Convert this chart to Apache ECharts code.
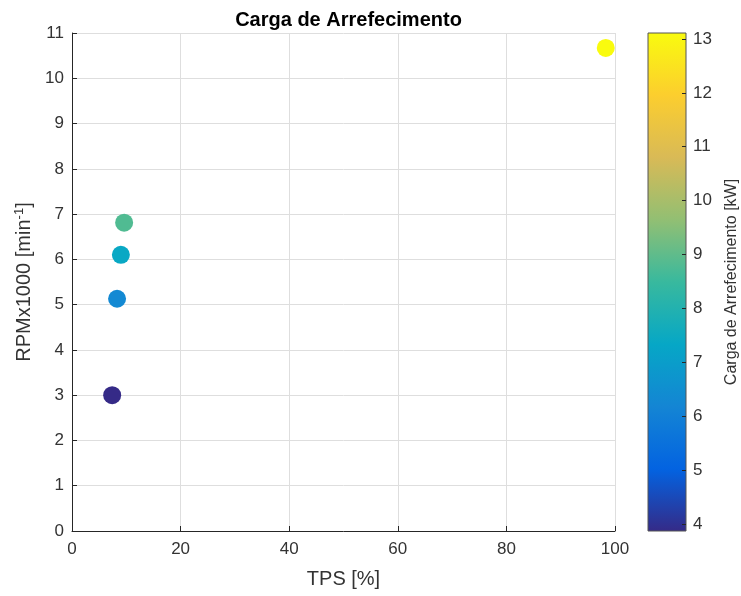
<!DOCTYPE html>
<html>
<head>
<meta charset="utf-8">
<script src="https://cdn.jsdelivr.net/npm/echarts@6/dist/echarts.min.js"></script>
<style>
  html, body { margin: 0; padding: 0; background: #fff; }
  #chart { width: 741px; height: 596px; }
</style>
</head>
<body>
<div id="chart"></div>
<script>
// Operating points: throttle position, engine speed and cooling load
const tps = [7.4, 8.3, 9.0, 9.6, 98.3];
const rpm = [3.0, 5.13, 6.1, 6.81, 10.67];
const carga = [3.87, 6.3, 7.4, 8.8, 13.11];

// Axis ticks
const xTicks = [0, 20, 40, 60, 80, 100];
const yTicks = [0, 1, 2, 3, 4, 5, 6, 7, 8, 9, 10, 11];
const cbTicks = [4, 5, 6, 7, 8, 9, 10, 11, 12, 13];

// Parula colour map key colours
const parula = ['#352a87', '#0363e1', '#1485d4', '#06a7c6', '#38b99e',
                '#92bf73', '#d9ba56', '#fcce2e', '#f9fb0e'];

const cMin = Math.min(...carga);
const cMax = Math.max(...carga);

const points = tps.map((t, i) => [t, rpm[i], carga[i]]);

const font = 'Liberation Sans, Arial, Helvetica, sans-serif';
const txt = '#333333';
const axisCol = '#262626';
const gridCol = '#dedede';

const chart = echarts.init(document.getElementById('chart'), null, { renderer: 'canvas' });

chart.setOption({
  animation: false,
  backgroundColor: '#ffffff',
  textStyle: { fontFamily: font },
  title: {
    text: 'Carga de Arrefecimento',
    left: 343.5,
    textAlign: 'center',
    top: 5,
    textStyle: { fontSize: 20, fontWeight: 'bold', color: '#000', fontFamily: font }
  },
  grid: [
    { left: 72, right: 126, top: 33, bottom: 65 },
    { left: 648, width: 40, top: 33, bottom: 65 }
  ],
  visualMap: {
    show: false,
    type: 'continuous',
    seriesIndex: 0,
    dimension: 2,
    min: cMin,
    max: cMax,
    inRange: { color: parula }
  },
  xAxis: [
    {
      gridIndex: 0, type: 'value', min: xTicks[0], max: xTicks[xTicks.length - 1], interval: 20,
      name: 'TPS [%]', nameLocation: 'middle', nameGap: 38,
      nameTextStyle: { fontSize: 20, color: txt },
      axisLine: { show: true, onZero: false, lineStyle: { color: axisCol, width: 1 } },
      axisTick: { show: true, inside: true, length: 5, lineStyle: { color: axisCol } },
      axisLabel: { fontSize: 17, color: txt, margin: 10 },
      splitLine: { show: true, lineStyle: { color: gridCol, width: 1 } }
    },
    {
      gridIndex: 1, type: 'value', min: 0, max: 1, show: false
    }
  ],
  yAxis: [
    {
      gridIndex: 0, type: 'value', min: yTicks[0], max: yTicks[yTicks.length - 1], interval: 1,
      name: 'RPMx1000 [min{sup|-1}]', nameLocation: 'middle', nameGap: 36,
      nameTextStyle: {
        fontSize: 20, color: txt,
        rich: { sup: { fontSize: 13, color: txt, verticalAlign: 'top', padding: [0, 0, 10, 0] } }
      },
      axisLine: { show: true, onZero: false, lineStyle: { color: axisCol, width: 1 } },
      axisTick: { show: true, inside: true, length: 5, lineStyle: { color: axisCol } },
      axisLabel: { fontSize: 17, color: txt, margin: 8 },
      splitLine: { show: true, lineStyle: { color: gridCol, width: 1 } }
    },
    {
      gridIndex: 1, type: 'value', min: cMin, max: cMax, position: 'right', z: 10,
      name: 'Carga de Arrefecimento [kW]', nameLocation: 'middle', nameGap: 38, nameRotate: 90,
      nameTextStyle: { fontSize: 16, color: txt },
      axisLine: { show: false, onZero: false },
      axisTick: { show: true, inside: true, length: 4, customValues: cbTicks, lineStyle: { color: axisCol, width: 1 } },
      axisLabel: { fontSize: 17, color: txt, margin: 7, customValues: cbTicks },
      splitLine: { show: false }
    }
  ],
  series: [
    {
      type: 'scatter',
      xAxisIndex: 0, yAxisIndex: 0,
      symbolSize: 18,
      data: points,
      itemStyle: { opacity: 1 }
    },
    {
      // colour bar strip
      type: 'custom',
      xAxisIndex: 1, yAxisIndex: 1,
      silent: true,
      z: 1,
      data: [[0, cMin, 1, cMax]],
      renderItem: function (params, api) {
        const p0 = api.coord([api.value(0), api.value(1)]);
        const p1 = api.coord([api.value(2), api.value(3)]);
        const stops = parula.map((c, i) => ({ offset: i / (parula.length - 1), color: c }));
        return {
          type: 'rect',
          shape: { x: p0[0], y: p1[1], width: p1[0] - p0[0], height: p0[1] - p1[1] },
          style: {
            fill: new echarts.graphic.LinearGradient(0, 1, 0, 0, stops),
            stroke: '#555555',
            lineWidth: 1
          }
        };
      }
    }
  ]
});
</script>
</body>
</html>
